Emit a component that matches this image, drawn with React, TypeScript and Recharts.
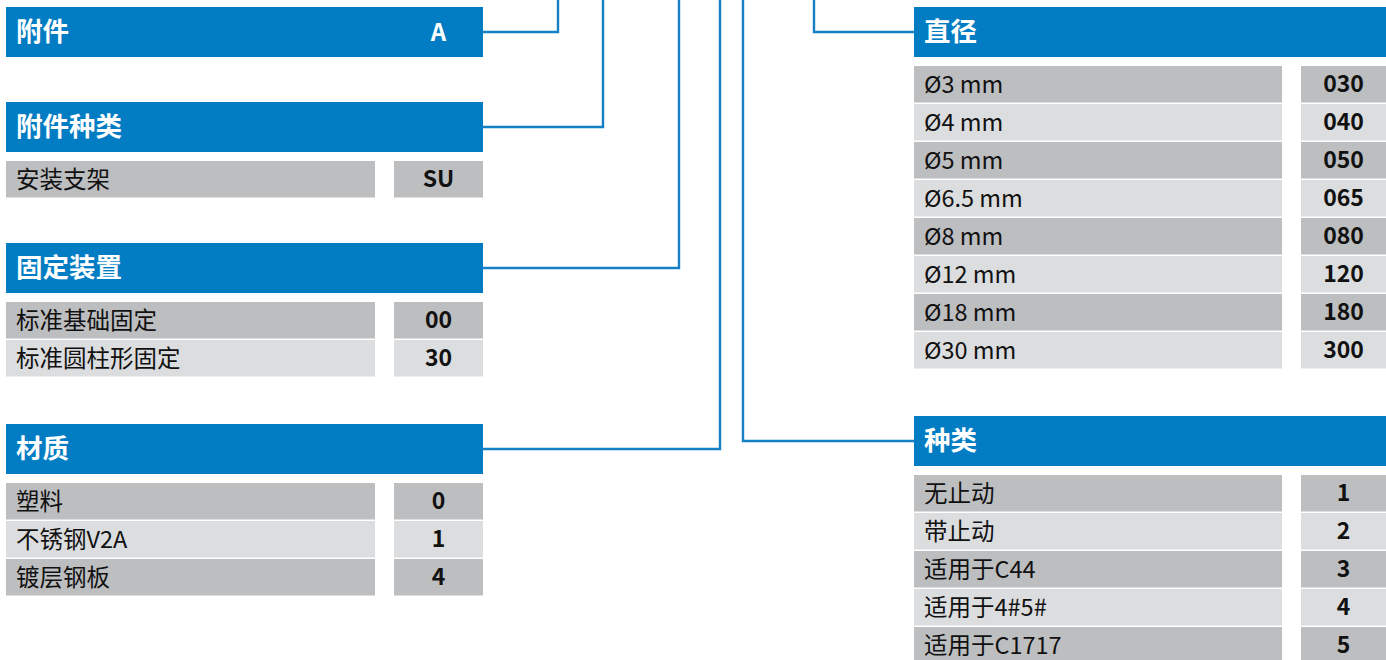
import React from 'react'
import { ComposedChart, XAxis, YAxis, Line, ReferenceArea } from 'recharts'

// section titles and the code shown in the header (only the first carries one)
const sectionTitles = ['附件', '附件种类', '固定装置', '材质', '直径', '种类']
const headerCodes = ['A', '', '', '', '', '']

const accessoryTypeLabels = ['安装支架']
const accessoryTypeCodes = ['SU']

const mountingLabels = ['标准基础固定', '标准圆柱形固定']
const mountingCodes = ['00', '30']

const materialLabels = ['塑料', '不锈钢V2A', '镀层钢板']
const materialCodes = ['0', '1', '4']

const diameterLabels = ['Ø3 mm', 'Ø4 mm', 'Ø5 mm', 'Ø6.5 mm', 'Ø8 mm', 'Ø12 mm', 'Ø18 mm', 'Ø30 mm']
const diameterCodes = ['030', '040', '050', '065', '080', '120', '180', '300']

const typeLabels = ['无止动', '带止动', '适用于C44', '适用于4#5#', '适用于C1717']
const typeCodes = ['1', '2', '3', '4', '5']

// layout
const W = 1386
const H = 660
const BLUE = '#027cc2'
const LINE_BLUE = '#1581c4'
const DARK = '#bdbec0'
const LIGHT = '#dcdddf'
const HEADER_H = 50
const ROW_OFFSET = 59
const ROW_H = 36.5
const ROW_PITCH = 38

const leftCol = { x0: 6, labelEnd: 375, codeStart: 394, x1: 483 }
const rightCol = { x0: 914, labelEnd: 1282, codeStart: 1301, x1: W }

const sections = [
	{ labels: [] as string[], codes: [] as string[], col: leftCol, top: 7, bend: 558 },
	{ labels: accessoryTypeLabels, codes: accessoryTypeCodes, col: leftCol, top: 102, bend: 603 },
	{ labels: mountingLabels, codes: mountingCodes, col: leftCol, top: 243, bend: 679 },
	{ labels: materialLabels, codes: materialCodes, col: leftCol, top: 424, bend: 720 },
	{ labels: diameterLabels, codes: diameterCodes, col: rightCol, top: 7, bend: 814 },
	{ labels: typeLabels, codes: typeCodes, col: rightCol, top: 416, bend: 743 },
]

const textLabel = (value: string, position: any, size: number, bold: boolean, fill: string, offset = 11) => ({
	value,
	position,
	offset,
	fill,
	fontSize: size,
	fontWeight: bold ? 700 : 400,
	fontFamily: '"Noto Sans CJK SC", "Noto Sans", sans-serif',
})

export default function App() {
	const areas: React.ReactNode[] = []
	const connectors: { x: number; y: number }[][] = []

	sections.forEach((s, si) => {
		const { col, top } = s
		areas.push(
			<ReferenceArea
				key={`h-${si}`}
				x1={col.x0}
				x2={col.x1}
				y1={top}
				y2={top + HEADER_H}
				fill={BLUE}
				fillOpacity={1}
				ifOverflow="visible"
				label={textLabel(sectionTitles[si], 'insideLeft', 26.5, true, '#fff', 10)}
			/>
		)
		if (headerCodes[si]) {
			areas.push(
				<ReferenceArea
					key={`hc-${si}`}
					x1={col.codeStart}
					x2={col.x1}
					y1={top}
					y2={top + HEADER_H}
					fillOpacity={0}
					ifOverflow="visible"
					label={textLabel(headerCodes[si], 'center', 24, true, '#fff')}
				/>
			)
		}
		s.labels.forEach((lab, ri) => {
			const y1 = top + ROW_OFFSET + ri * ROW_PITCH
			const fill = ri % 2 === 0 ? DARK : LIGHT
			areas.push(
				<ReferenceArea
					key={`l-${si}-${ri}`}
					x1={col.x0}
					x2={col.labelEnd}
					y1={y1}
					y2={y1 + ROW_H}
					fill={fill}
					fillOpacity={1}
					ifOverflow="visible"
					label={textLabel(lab, 'insideLeft', 23.5, false, '#111', 10)}
				/>
			)
			areas.push(
				<ReferenceArea
					key={`c-${si}-${ri}`}
					x1={col.codeStart}
					x2={col.x1}
					y1={y1}
					y2={y1 + ROW_H}
					fill={fill}
					fillOpacity={1}
					ifOverflow="visible"
					label={textLabel(s.codes[ri], 'center', 23, true, '#111')}
				/>
			)
		})
		const cy = top + HEADER_H / 2
		const edge = col === leftCol ? col.x1 : col.x0
		connectors.push([
			{ x: edge, y: cy },
			{ x: s.bend, y: cy },
			{ x: s.bend, y: 0 },
		])
	})

	return (
		<div style={{ fontFamily: '"Noto Sans CJK SC", sans-serif' }}>
			<style>{'body{margin:0}'}</style>
			<ComposedChart width={W} height={H} margin={{ top: 0, right: 0, bottom: 0, left: 0 }}>
				<XAxis dataKey="x" type="number" domain={[0, W]} hide />
				<YAxis dataKey="y" type="number" domain={[0, H]} reversed hide />
				{areas}
				{connectors.map((pts, i) => (
					<Line
						key={`ln-${i}`}
						data={pts}
						dataKey="y"
						type="linear"
						stroke={LINE_BLUE}
						strokeWidth={2.4}
						strokeLinejoin="miter"
						strokeLinecap="butt"
						dot={false}
						activeDot={false}
						isAnimationActive={false}
					/>
				))}
			</ComposedChart>
		</div>
	)
}
